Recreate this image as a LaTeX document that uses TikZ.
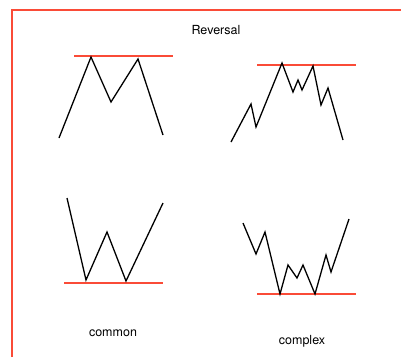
\documentclass[tikz,border=0pt]{standalone}
\usepackage{fontspec}
\setmainfont{TeX Gyre Heros}
\usepackage[svgnames]{xcolor}
\definecolor{linered}{RGB}{250,75,55}
\tikzset{
  trend/.style={black, line width=1.3pt, line join=miter},
  level/.style={linered, line width=1.5pt},
  caption/.style={font=\fontsize{12.5}{14}\selectfont, inner sep=0pt}
}

\begin{document}
\begin{tikzpicture}[x=1pt,y=-1pt]
  \useasboundingbox (0,0) rectangle (401,357);

  % 边框
  \draw[level] (12,357) -- (12,10) -- (401,10);

  % 标题
  \node[caption] (title) at (216,30) {Reversal};

  % 双顶
  \coordinate (M1) at (59,138);
  \coordinate (M2) at (91,57);
  \coordinate (M3) at (111,102);
  \coordinate (M4) at (138,59);
  \coordinate (M5) at (163,135);
  \draw[level] (74,56) -- (173,56);
  \draw[trend] (M1) -- (M2) -- (M3) -- (M4) -- (M5);

  % 复杂双顶
  \draw[level] (257,65) -- (356,65);
  \draw[trend] plot coordinates {(231,142) (251,104) (256,127) (282,63)
    (293,92) (298,80) (302,90) (313,66) (321,105) (328,88) (343,140)};

  % 双底
  \coordinate (W1) at (67,198);
  \coordinate (W2) at (86,280);
  \coordinate (W3) at (107,232);
  \coordinate (W4) at (126,281);
  \coordinate (W5) at (163,203);
  \draw[level] (64,283) -- (163,283);
  \draw[trend] (W1) -- (W2) -- (W3) -- (W4) -- (W5);

  % 复杂双底
  \draw[level] (257,294) -- (356,294);
  \draw[trend] plot coordinates {(243,223) (256,254) (265,232) (280,294)
    (288,265) (297,278) (303,265) (315,294) (326,255) (331,272) (349,219)};

  % 标签
  \node[caption] (common) at (113,333) {common};
  \node[caption] (complex) at (302,341) {complex};
\end{tikzpicture}
\end{document}
